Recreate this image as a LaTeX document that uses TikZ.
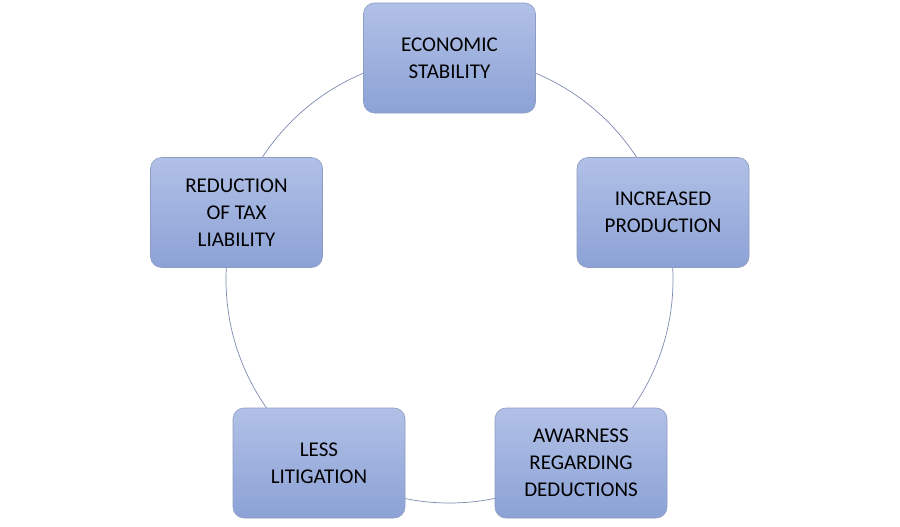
\documentclass[tikz,border=0pt]{standalone}
\usepackage{fontspec}
\setmainfont{Carlito}
\begin{document}
\begin{tikzpicture}[x=1pt,y=-1pt,
  box/.style={draw=boxline,line width=0.6pt,rounded corners=11pt,top color=btop,bottom color=bbot,
    minimum width=172pt,minimum height=110pt,align=center,inner sep=2pt,
    font=\fontsize{21}{27}\selectfont,text=black}]
\definecolor{btop}{HTML}{B1C0E6}
\definecolor{bbot}{HTML}{8CA2D6}
\definecolor{boxline}{HTML}{8E9CC2}
\definecolor{ring}{HTML}{7D8BB0}
\useasboundingbox (0,0) rectangle (900,527);
\coordinate (c) at (449.5,279.5);
\draw[ring,line width=0.7pt] (c) circle[radius=223.5];
\node[box] (a) at (449.5,58) {ECONOMIC\\STABILITY};
\node[box] (b) at (663,212.5) {INCREASED\\PRODUCTION};
\node[box] (d) at (581,463) {AWARNESS\\REGARDING\\DEDUCTIONS};
\node[box] (e) at (319,463) {LESS\\LITIGATION};
\node[box] (f) at (236.5,212.5) {REDUCTION\\OF TAX\\LIABILITY};
\end{tikzpicture}
\end{document}
